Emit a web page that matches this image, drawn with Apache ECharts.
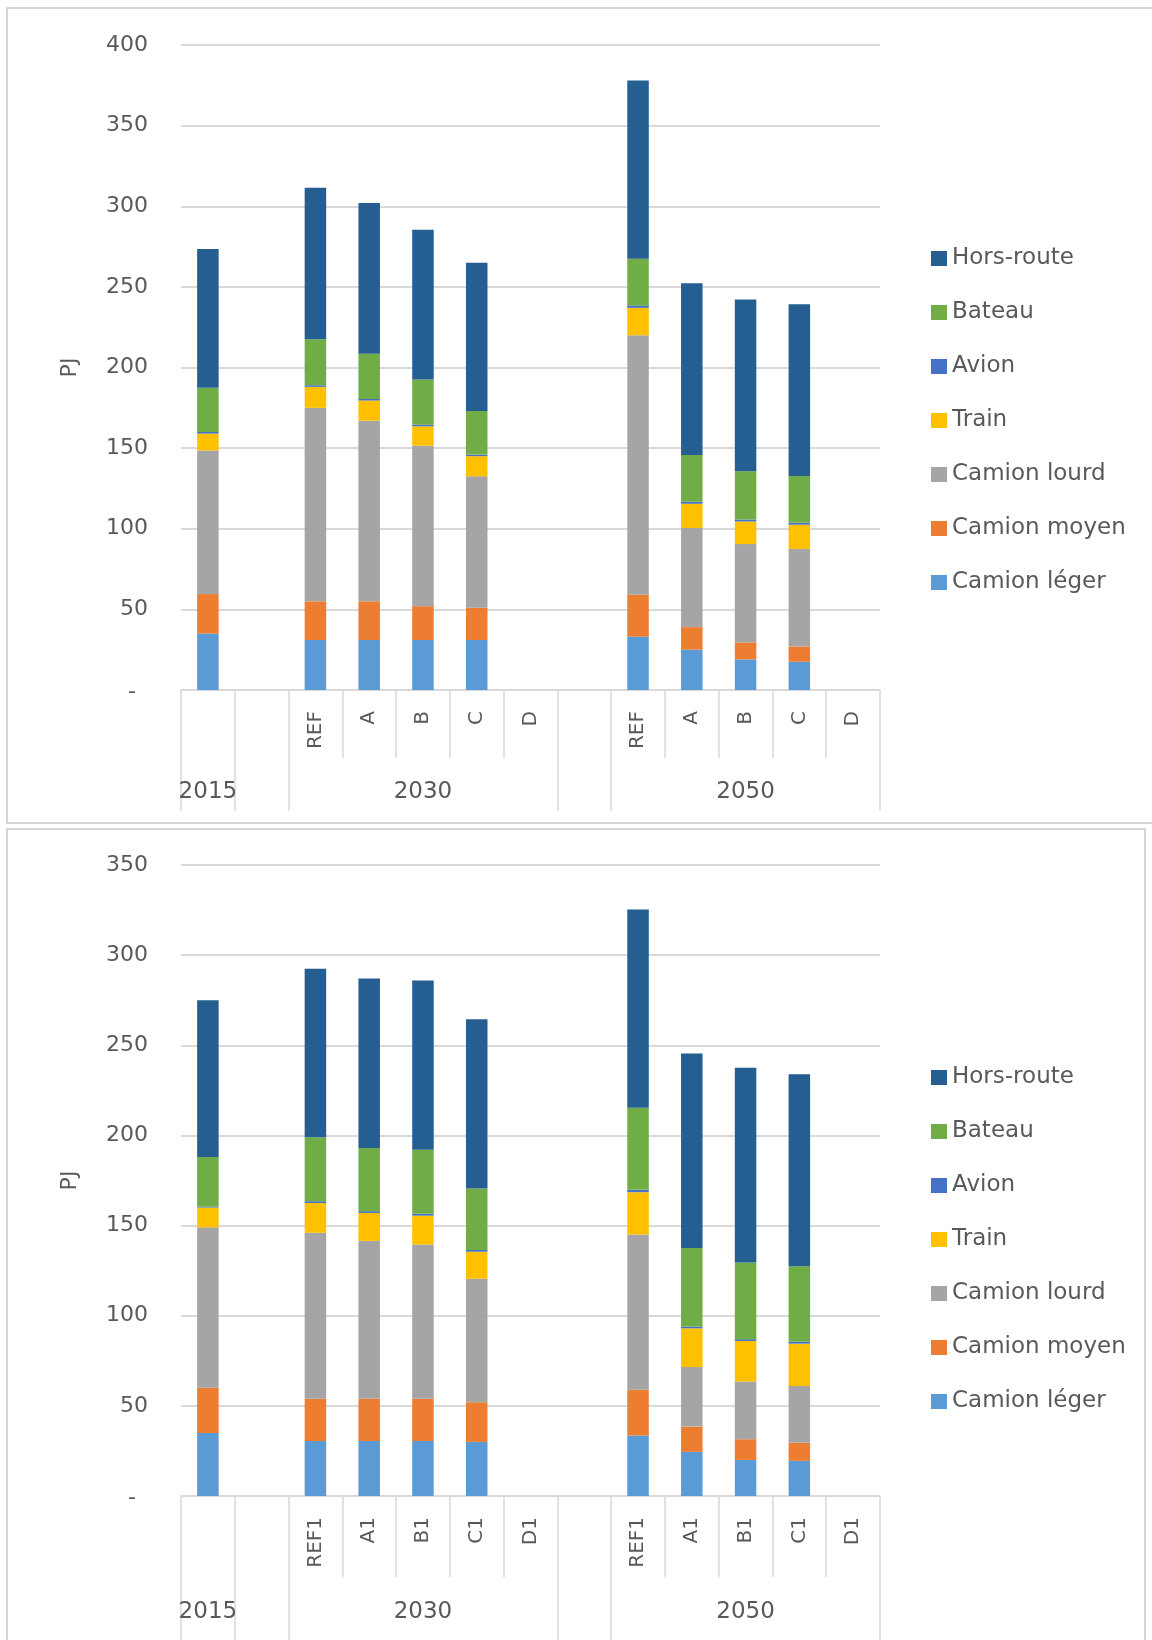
<!DOCTYPE html>
<html>
<head>
<meta charset="utf-8">
<script src="https://cdn.jsdelivr.net/npm/echarts@6/dist/echarts.min.js"></script>
<style>
  html, body { margin: 0; padding: 0; background: #ffffff; }
  #chart { width: 1152px; height: 1640px; }
</style>
</head>
<body>
<div id="chart"></div>
<script>
// Two-level category axis: year band for each column, then the scenario under it
const years = ['2015', '', '2030', '2030', '2030', '2030', '2030', '', '2050', '2050', '2050', '2050', '2050'];
const scenariosTop = ['', '', 'REF', 'A', 'B', 'C', 'D', '', 'REF', 'A', 'B', 'C', 'D'];
const scenariosBottom = ['', '', 'REF1', 'A1', 'B1', 'C1', 'D1', '', 'REF1', 'A1', 'B1', 'C1', 'D1'];

// Stack order, bottom to top
const seriesNames = ['Camion léger', 'Camion moyen', 'Camion lourd', 'Train', 'Avion', 'Bateau', 'Hors-route'];
const seriesColors = ['#5B9BD5', '#ED7D31', '#A5A5A5', '#FFC000', '#4472C4', '#70AD47', '#255E91'];

// Upper chart (PJ)
const topCamionLeger  = [35,   null, 31,   31,   31,   31,   null, null, 33,   25,   19,   17.5, null];
const topCamionMoyen  = [24.5, null, 24,   24,   21,   20,   null, null, 26,   14,   10.5, 9.5,  null];
const topCamionLourd  = [89,   null, 120,  112,  99.5, 81.5, null, null, 161,  61.5, 61,   60.5, null];
const topTrain        = [10.5, null, 13,   12.5, 12,   12.5, null, null, 17,   15,   14,   15,   null];
const topAvion        = [1,    null, 1,    1,    1,    1,    null, null, 1.5,  1.2,  1.2,  1.2,  null];
const topBateau       = [27.5, null, 28.5, 28,   28,   27,   null, null, 29,   29,   30,   29,   null];
const topHorsRoute    = [86,   null, 94,   93.5, 93,   92,   null, null, 110.5, 106.5, 106.5, 106.5, null];

// Lower chart (PJ)
const botCamionLeger  = [35,   null, 30.5, 30.5, 30.5, 30,   null, null, 33.5, 24.5, 20,   19.5, null];
const botCamionMoyen  = [25,   null, 23.5, 23.5, 23.5, 22,   null, null, 25.5, 14,   11.5, 10,   null];
const botCamionLourd  = [89,   null, 92,   87.5, 85.5, 68.5, null, null, 86,   33,   32,   31.5, null];
const botTrain        = [11,   null, 16.5, 15.5, 16,   15,   null, null, 23.5, 21.5, 22.5, 23.5, null];
const botAvion        = [0.5,  null, 1,    1,    1,    1,    null, null, 1.3,  1,    1,    1,    null];
const botBateau       = [27.5, null, 35.5, 35,   35.5, 34,   null, null, 45.5, 43.5, 42.5, 42,   null];
const botHorsRoute    = [87,   null, 93.5, 94,   94,   94,   null, null, 110,  108,  108,  106.5, null];

const topValues = [topCamionLeger, topCamionMoyen, topCamionLourd, topTrain, topAvion, topBateau, topHorsRoute];
const botValues = [botCamionLeger, botCamionMoyen, botCamionLourd, botTrain, botAvion, botBateau, botHorsRoute];

const topAxisMax = 400;
const botAxisMax = 350;
const axisStep = 50;

const FONT = 'DejaVu Sans';
const TEXT = '#595959';
const LINE = '#D9D9D9';

// Runs of identical year values form the groups of the outer axis level
const groupStarts = [];
const yearLabels = years.map(() => '');
(function () {
  let s = 0;
  for (let i = 1; i <= years.length; i++) {
    if (i === years.length || years[i] !== years[s]) {
      groupStarts.push(s);
      const mid = Math.round((s + i - 1) / 2);
      yearLabels[mid] = years[s];
      s = i;
    }
  }
})();

// layout: sub-level tick length, group tick length, year label margin
function xAxesFor(gridIndex, scenarios, layout) {
  return [
    {
      type: 'category', gridIndex, data: scenarios, position: 'bottom',
      axisLine: { show: true, lineStyle: { color: LINE, width: 1.5 } },
      axisTick: { show: true, interval: 0, length: layout.subTick, lineStyle: { color: LINE, width: 1.5 } },
      axisLabel: { interval: 0, rotate: 90, margin: 21, fontSize: 20, color: TEXT, fontFamily: FONT },
      splitLine: { show: false }
    },
    {
      type: 'category', gridIndex, data: yearLabels, position: 'bottom', offset: 0,
      axisLine: { show: false },
      axisTick: { show: true, interval: (i) => groupStarts.includes(i), length: layout.groupTick, lineStyle: { color: LINE, width: 1.5 } },
      axisLabel: { interval: 0, margin: layout.yearMargin, fontSize: 23, color: TEXT, fontFamily: FONT },
      splitLine: { show: false }
    }
  ];
}

function yAxisFor(gridIndex, max) {
  return {
    type: 'value', gridIndex, min: 0, max, interval: axisStep,
    name: 'PJ', nameLocation: 'middle', nameGap: 100,
    nameTextStyle: { fontSize: 22, color: TEXT, fontFamily: FONT },
    axisLine: { show: false }, axisTick: { show: false },
    axisLabel: {
      margin: 33, fontSize: 22, color: TEXT, fontFamily: FONT,
      formatter: (v) => v === 0 ? '{d|-}' : String(v),
      rich: { d: { fontSize: 22, color: TEXT, fontFamily: FONT, padding: [4, 12, 0, 0] } }
    },
    splitLine: { show: true, lineStyle: { color: LINE, width: 2 } }
  };
}

function seriesFor(values, axisBase, gridIndex, stackId) {
  return seriesNames.map((name, k) => ({
    name, type: 'bar', stack: stackId,
    xAxisIndex: axisBase, yAxisIndex: gridIndex,
    barWidth: '40%',
    itemStyle: { color: seriesColors[k] },
    data: values[k]
  }));
}

function legendFor(top) {
  return {
    orient: 'vertical', left: 931, top, padding: 0,
    data: seriesNames.slice().reverse(),
    icon: 'rect', itemWidth: 16, itemHeight: 15, itemGap: 31,
    selectedMode: false,
    textStyle: { fontSize: 23, color: TEXT, fontFamily: FONT }
  };
}

const chart = echarts.init(document.getElementById('chart'), null, { renderer: 'canvas' });
chart.setOption({
  animation: false,
  backgroundColor: '#ffffff',
  textStyle: { fontFamily: FONT },
  graphic: [
    { type: 'rect', shape: { x: 7, y: 8, width: 1160, height: 815 }, style: { fill: 'none', stroke: '#D4D4D4', lineWidth: 2 }, silent: true, z: -10 },
    { type: 'rect', shape: { x: 7, y: 829, width: 1138, height: 830 }, style: { fill: 'none', stroke: '#D4D4D4', lineWidth: 2 }, silent: true, z: -10 }
  ],
  grid: [
    { left: 181, top: 45, width: 699, height: 645 },
    { left: 181, top: 865, width: 699, height: 631 }
  ],
  legend: [legendFor(247), legendFor(1066)],
  xAxis: [
    ...xAxesFor(0, scenariosTop, { subTick: 68, groupTick: 121, yearMargin: 91 }),
    ...xAxesFor(1, scenariosBottom, { subTick: 81, groupTick: 150, yearMargin: 105 })
  ],
  yAxis: [yAxisFor(0, topAxisMax), yAxisFor(1, botAxisMax)],
  series: [
    ...seriesFor(topValues, 0, 0, 'upper'),
    ...seriesFor(botValues, 2, 1, 'lower')
  ]
});
</script>
</body>
</html>
